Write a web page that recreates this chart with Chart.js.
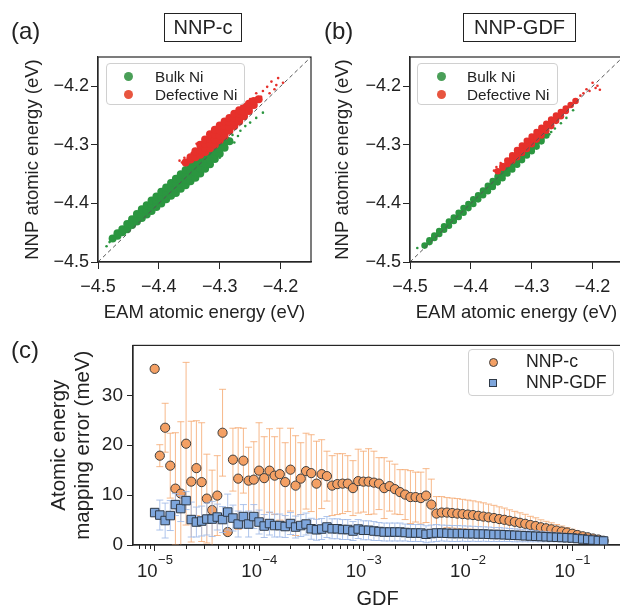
<!DOCTYPE html>
<html>
<head>
<meta charset="utf-8">
<script src="https://cdn.jsdelivr.net/npm/chart.js@4.4.1/dist/chart.umd.min.js"></script>
<style>
  html, body { margin: 0; padding: 0; background: #fff; }
  body { width: 620px; height: 608px; position: relative; overflow: hidden;
         font-family: 'Liberation Sans', Arial, Helvetica, sans-serif; color: #222; }
  canvas { position: absolute; }
  .panel { position: absolute; font-size: 24px; line-height: 1; }
  .title { position: absolute; border: 1px solid #222; box-sizing: border-box; font-size: 20px;
           display: flex; align-items: center; justify-content: center; background: #fff; }
  .legend { position: absolute; border: 1px solid #d0d0d0; border-radius: 4px; box-sizing: border-box;
            background: rgba(255,255,255,0.85); }
  .txt { position: absolute; white-space: nowrap; line-height: 1; }
  .mk { position: absolute; box-sizing: border-box; }
</style>
</head>
<body>
<canvas id="chartA" width="320" height="330" style="left:0;top:0"></canvas>
<canvas id="chartB" width="320" height="330" style="left:310px;top:0"></canvas>
<canvas id="chartC" width="630" height="285" style="left:0;top:330px"></canvas>

<div class="panel" style="left:11px;top:19px">(a)</div>
<div class="title" style="left:164px;top:13px;width:78px;height:29px">NNP-c</div>
<div class="panel" style="left:324px;top:19px">(b)</div>
<div class="title" style="left:463px;top:13px;width:113px;height:29px">NNP-GDF</div>
<div class="panel" style="left:11px;top:338px">(c)</div>

<div class="legend" style="left:106px;top:63px;width:139px;height:42px"></div>
<div class="mk" style="left:123.5px;top:71.5px;width:9px;height:9px;border-radius:50%;background:#4a9f58"></div>
<div class="txt" style="left:155px;top:68.5px;font-size:15.3px">Bulk Ni</div>
<div class="mk" style="left:123.5px;top:89.5px;width:9px;height:9px;border-radius:50%;background:#e8553f"></div>
<div class="txt" style="left:155px;top:86.5px;font-size:15.3px">Defective Ni</div>

<div class="legend" style="left:417px;top:63px;width:141px;height:42px"></div>
<div class="mk" style="left:436.5px;top:71.5px;width:9px;height:9px;border-radius:50%;background:#4a9f58"></div>
<div class="txt" style="left:467px;top:68.5px;font-size:15.3px">Bulk Ni</div>
<div class="mk" style="left:436.5px;top:89.5px;width:9px;height:9px;border-radius:50%;background:#e8553f"></div>
<div class="txt" style="left:467px;top:86.5px;font-size:15.3px">Defective Ni</div>

<div class="legend" style="left:468px;top:349px;width:146px;height:47px"></div>
<div class="mk" style="left:488.5px;top:357.5px;width:9px;height:9px;border-radius:50%;background:#f4a064;border:1px solid #3d3d3d"></div>
<div class="txt" style="left:526px;top:353.3px;font-size:17.7px">NNP-c</div>
<div class="mk" style="left:489px;top:379px;width:8px;height:8px;background:#7ea6dc;border:1px solid #2f3a48"></div>
<div class="txt" style="left:526px;top:374.3px;font-size:17.7px">NNP-GDF</div>

<script>
// ---- panels (a) and (b): atomic energies, eV ----
const energyTicks = [-4.5, -4.4, -4.3, -4.2];
const energyTickLabels = ['−4.5', '−4.4', '−4.3', '−4.2'];
const diagonal = [-4.5, -4.15];

// columns of the dense clouds: [EAM energy, [NNP energies at that EAM energy]]
const bulkNNPc = [
  [-4.476, [-4.460]],
  [-4.468, [-4.455, -4.451]],
  [-4.460, [-4.449, -4.444]],
  [-4.452, [-4.444, -4.435]],
  [-4.444, [-4.437, -4.432, -4.427]],
  [-4.436, [-4.431, -4.425, -4.418]],
  [-4.428, [-4.425, -4.418, -4.410]],
  [-4.420, [-4.419, -4.411, -4.403]],
  [-4.412, [-4.413, -4.407, -4.401, -4.395]],
  [-4.404, [-4.406, -4.400, -4.394, -4.388]],
  [-4.396, [-4.400, -4.393, -4.387, -4.380]],
  [-4.388, [-4.393, -4.386, -4.379, -4.373]],
  [-4.380, [-4.387, -4.380, -4.372, -4.365]],
  [-4.372, [-4.382, -4.374, -4.366, -4.358]],
  [-4.364, [-4.375, -4.367, -4.359, -4.350]],
  [-4.356, [-4.369, -4.360, -4.352, -4.343]],
  [-4.348, [-4.362, -4.353, -4.344, -4.336]],
  [-4.340, [-4.356, -4.347, -4.337, -4.328]],
  [-4.332, [-4.349, -4.340, -4.330, -4.321]],
  [-4.324, [-4.341, -4.332, -4.323, -4.315]],
  [-4.316, [-4.333, -4.325, -4.317, -4.309]],
  [-4.308, [-4.324, -4.317, -4.311, -4.304]],
  [-4.300, [-4.315, -4.307, -4.299]],
  [-4.292, [-4.305, -4.295]],
  [-4.284, [-4.294]]
];
const bulkSparseNNPc = [
  [-4.486, -4.473], [-4.481, -4.466], [-4.279, -4.283], [-4.270, -4.285], [-4.266, -4.276],
  [-4.258, -4.268], [-4.250, -4.262], [-4.240, -4.254], [-4.229, -4.245], [-4.286, -4.289],
  [-4.276, -4.296], [-4.300, -4.322]
];
const defectNNPc = [
  [-4.356, [-4.330]],
  [-4.348, [-4.325, -4.321]],
  [-4.340, [-4.321, -4.311]],
  [-4.332, [-4.317, -4.309, -4.300]],
  [-4.324, [-4.312, -4.305, -4.298, -4.291]],
  [-4.316, [-4.306, -4.298, -4.290, -4.282]],
  [-4.308, [-4.300, -4.291, -4.282, -4.274]],
  [-4.300, [-4.292, -4.284, -4.275, -4.267]],
  [-4.292, [-4.285, -4.276, -4.268, -4.260]],
  [-4.284, [-4.276, -4.269, -4.261, -4.254]],
  [-4.276, [-4.268, -4.261, -4.254, -4.247]],
  [-4.268, [-4.260, -4.253, -4.247, -4.241]],
  [-4.260, [-4.251, -4.243, -4.235]],
  [-4.252, [-4.242, -4.236, -4.230]],
  [-4.244, [-4.232, -4.225]],
  [-4.236, [-4.222]]
];
const defectSparseNNPc = [
  [-4.215, -4.192], [-4.196, -4.194], [-4.204, -4.186], [-4.229, -4.208], [-4.222, -4.201],
  [-4.210, -4.205], [-4.240, -4.212], [-4.232, -4.218], [-4.218, -4.212], [-4.207, -4.198],
  [-4.245, -4.225], [-4.250, -4.222], [-4.362, -4.330], [-4.366, -4.327], [-4.358, -4.322],
  [-4.346, -4.314], [-4.338, -4.298], [-4.327, -4.292]
];
const bulkNNPgdf = [
  [-4.476, [-4.472]],
  [-4.468, [-4.466, -4.463]],
  [-4.460, [-4.459, -4.455]],
  [-4.452, [-4.452, -4.447]],
  [-4.444, [-4.445, -4.439]],
  [-4.436, [-4.438, -4.431]],
  [-4.428, [-4.430, -4.424]],
  [-4.420, [-4.423, -4.416]],
  [-4.412, [-4.416, -4.408]],
  [-4.404, [-4.408, -4.401]],
  [-4.396, [-4.401, -4.393]],
  [-4.388, [-4.393, -4.386]],
  [-4.380, [-4.386, -4.382, -4.378]],
  [-4.372, [-4.379, -4.374, -4.370]],
  [-4.364, [-4.372, -4.367, -4.362]],
  [-4.356, [-4.364, -4.359, -4.354]],
  [-4.348, [-4.357, -4.352, -4.347]],
  [-4.340, [-4.349, -4.344, -4.340]],
  [-4.332, [-4.342, -4.337, -4.332]],
  [-4.324, [-4.334, -4.329, -4.325]],
  [-4.316, [-4.326, -4.322, -4.317]],
  [-4.308, [-4.318, -4.314, -4.310]],
  [-4.300, [-4.311, -4.307, -4.302]],
  [-4.292, [-4.303, -4.296]],
  [-4.284, [-4.294, -4.290]],
  [-4.276, [-4.284]]
];
const bulkSparseNNPgdf = [
  [-4.488, -4.476], [-4.271, -4.282], [-4.262, -4.272], [-4.252, -4.263], [-4.243, -4.254],
  [-4.232, -4.241], [-4.268, -4.278]
];
const defectNNPgdf = [
  [-4.356, [-4.345]],
  [-4.348, [-4.339, -4.336]],
  [-4.340, [-4.333, -4.327]],
  [-4.332, [-4.327, -4.322, -4.318]],
  [-4.324, [-4.321, -4.315, -4.309]],
  [-4.316, [-4.314, -4.310, -4.305, -4.301]],
  [-4.308, [-4.307, -4.302, -4.298, -4.293]],
  [-4.300, [-4.299, -4.295, -4.290, -4.286]],
  [-4.292, [-4.291, -4.287, -4.283, -4.278]],
  [-4.284, [-4.284, -4.279, -4.275, -4.271]],
  [-4.276, [-4.276, -4.270, -4.264]],
  [-4.268, [-4.268, -4.262, -4.257]],
  [-4.260, [-4.259, -4.255, -4.250]],
  [-4.252, [-4.251, -4.244]],
  [-4.244, [-4.242, -4.238]],
  [-4.236, [-4.232]],
  [-4.228, [-4.225]]
];
const defectSparseNNPgdf = [
  [-4.205, -4.208], [-4.200, -4.194], [-4.195, -4.203], [-4.210, -4.205], [-4.215, -4.212],
  [-4.188, -4.206], [-4.220, -4.216], [-4.192, -4.199], [-4.358, -4.338], [-4.362, -4.344],
  [-4.351, -4.331]
];

// ---- panel (c): mapping error vs GDF ----
const gdf = [
  1.00e-5, 1.12e-5, 1.26e-5, 1.41e-5, 1.58e-5, 1.78e-5, 2.00e-5, 2.24e-5, 2.51e-5, 2.82e-5,
  3.16e-5, 3.55e-5, 3.98e-5, 4.47e-5, 5.01e-5, 5.62e-5, 6.31e-5, 7.08e-5, 7.94e-5, 8.91e-5,
  1.00e-4, 1.12e-4, 1.26e-4, 1.41e-4, 1.58e-4, 1.78e-4, 2.00e-4, 2.24e-4, 2.51e-4, 2.82e-4,
  3.16e-4, 3.55e-4, 3.98e-4, 4.47e-4, 5.01e-4, 5.62e-4, 6.31e-4, 7.08e-4, 7.94e-4, 8.91e-4,
  1.00e-3, 1.12e-3, 1.26e-3, 1.41e-3, 1.58e-3, 1.78e-3, 2.00e-3, 2.24e-3, 2.51e-3, 2.82e-3,
  3.16e-3, 3.55e-3, 3.98e-3, 4.47e-3, 5.01e-3, 5.62e-3, 6.31e-3, 7.08e-3, 7.94e-3, 8.91e-3,
  1.00e-2, 1.12e-2, 1.26e-2, 1.41e-2, 1.58e-2, 1.78e-2, 2.00e-2, 2.24e-2, 2.51e-2, 2.82e-2,
  3.16e-2, 3.55e-2, 3.98e-2, 4.47e-2, 5.01e-2, 5.62e-2, 6.31e-2, 7.08e-2, 7.94e-2, 8.91e-2,
  1.00e-1, 1.12e-1, 1.26e-1, 1.41e-1, 1.58e-1, 1.78e-1, 2.00e-1
];
const errNNPc = [
  35.3, 17.9, 23.5, 15.9, 11.3, 10.3, 20.3, 12.7, 15.4, 12.6,
  9.3, 7.0, 9.9, 22.5, 2.6, 17.1, 13.3, 16.9, 12.9, 13.1,
  14.9, 13.4, 14.9, 13.9, 14.2, 12.6, 15.1, 11.9, 13.3, 14.8,
  14.4, 12.3, 14.2, 13.8, 11.9, 12.2, 12.3, 12.3, 11.4, 12.8,
  12.7, 12.7, 12.5, 12.3, 11.4, 11.8, 11.2, 10.6, 10.1, 9.6,
  9.6, 9.4, 9.9, 8.1, 6.3, 6.5, 6.5, 6.4, 6.3, 6.2,
  6.1, 6.0, 5.85, 5.7, 5.55, 5.4, 5.2, 5.05, 4.85, 4.65,
  4.45, 4.25, 4.0, 3.8, 3.55, 3.35, 3.15, 2.9, 2.7, 2.5,
  2.25, 2.0, 1.75, 1.55, 1.3, 1.1, 0.85
];
const stdNNPc = [
  0, 2.2, 4.9, 6.5, 11.2, 14.4, 16.3, 12.1, 9.5, 11.9,
  8.9, 8.0, 8.0, 8.7, 0, 6.3, 10.2, 6.5, 6.7, 7.6,
  9.6, 8.3, 8.4, 7.8, 9.2, 7.9, 8.3, 10.0, 7.2, 7.6,
  7.7, 8.5, 6.9, 5.0, 6.0, 6.1, 6.0, 5.6, 5.5, 6.4,
  6.1, 6.6, 6.3, 5.2, 6.1, 5.0, 5.0, 4.5, 5.0, 5.3,
  5.0, 5.2, 5.4, 5.1, 3.4, 3.2, 3.0, 3.0, 3.0, 2.95,
  2.9, 2.85, 2.8, 2.75, 2.65, 2.55, 2.45, 2.35, 2.2, 2.1,
  2.0, 1.9, 1.75, 1.65, 1.5, 1.4, 1.3, 1.2, 1.1, 1.0,
  0.9, 0.8, 0.7, 0.55, 0.4, 0.25, 0.1
];
const errNNPgdf = [
  6.5, 6.0, 4.9, 5.9, 8.1, 7.3, 8.9, 5.1, 4.6, 4.8,
  5.2, 5.2, 5.6, 5.1, 6.6, 5.4, 4.2, 5.7, 4.2, 5.7,
  4.6, 3.8, 4.3, 3.9, 3.9, 3.7, 4.3, 3.6, 3.9, 4.2,
  3.25, 3.05, 3.2, 3.6, 3.25, 3.25, 3.1, 3.1, 2.8, 3.2,
  2.95, 2.95, 2.8, 2.7, 2.6, 2.6, 2.6, 2.6, 2.5, 2.4,
  2.4, 2.4, 2.15, 2.3, 2.4, 2.4, 2.35, 2.3, 2.3, 2.3,
  2.25, 2.25, 2.2, 2.2, 2.15, 2.1, 2.1, 2.05, 2.0, 1.95,
  1.9, 1.85, 1.8, 1.75, 1.7, 1.65, 1.6, 1.55, 1.5, 1.45,
  1.4, 1.3, 1.2, 1.1, 1.0, 0.9, 0.8
];
const stdNNPgdf = [
  0, 3.0, 3.5, 3.0, 2.2, 2.6, 1.8, 3.5, 3.0, 3.0,
  3.2, 3.5, 2.6, 2.6, 3.6, 2.6, 2.6, 2.4, 2.6, 2.4,
  2.4, 2.3, 2.3, 2.3, 2.3, 2.2, 2.2, 2.2, 2.2, 2.2,
  2.1, 2.1, 2.1, 2.1, 2.0, 2.0, 2.0, 2.0, 1.9, 1.9,
  1.9, 1.9, 1.9, 1.8, 1.8, 1.8, 1.8, 1.8, 1.7, 1.7,
  1.7, 1.7, 1.7, 1.7, 1.7, 1.6, 1.6, 1.6, 1.6, 1.55,
  1.55, 1.5, 1.5, 1.45, 1.45, 1.4, 1.4, 1.35, 1.3, 1.3,
  1.25, 1.2, 1.15, 1.1, 1.05, 1.0, 0.95, 0.9, 0.85, 0.8,
  0.7, 0.6, 0.5, 0.4, 0.3, 0.2, 0.1
];
const gdfTicks = [1e-5, 1e-4, 1e-3, 1e-2, 1e-1];
const gdfTickBase = '10';
const gdfTickExponents = ['−5', '−4', '−3', '−2', '−1'];
const minorMultipliers = [2, 3, 4, 5, 6, 7, 8, 9];
const errTicks = [0, 10, 20, 30];
const errTickLabels = ['0', '10', '20', '30'];

const fontFamily = "'Liberation Sans', Arial, Helvetica, sans-serif";
Chart.defaults.font.family = fontFamily;
Chart.defaults.color = '#222';

const bulkColor = '#2b9640';
const defectColor = '#e6302b';

function columnsToPoints(cols) {
  const pts = [];
  cols.forEach(([x, ys]) => ys.forEach(y => pts.push({x: x, y: y})));
  return pts;
}
function pairsToPoints(pairs) {
  return pairs.map(([x, y]) => ({x: x, y: y}));
}

// top and right spines
const framePlugin = {
  id: 'frame',
  afterDatasetsDraw(chart) {
    const {ctx, chartArea: a} = chart;
    ctx.save();
    ctx.strokeStyle = '#262626';
    ctx.lineWidth = 1.2;
    ctx.strokeRect(a.left, a.top, a.right - a.left, a.bottom - a.top);
    ctx.restore();
  }
};

function makeEnergyChart(id, yWidth, rightPad, bulk, bulkSparse, defect, defectSparse, r) {
  const ticks = {
    font: {size: 18}, color: '#222', autoSkip: false, maxRotation: 0,
    callback: v => energyTickLabels[energyTicks.indexOf(v)]
  };
  const grid = {drawOnChartArea: false, tickLength: 7, tickColor: '#262626', tickWidth: 1};
  const border = {color: '#262626', width: 1.2};
  return new Chart(document.getElementById(id), {
    type: 'scatter',
    data: {
      datasets: [
        {type: 'line', data: diagonal.map(v => ({x: v, y: v})), borderColor: '#555', borderWidth: 1,
         borderDash: [4, 3], pointRadius: 0, fill: false, order: 0},
        {data: columnsToPoints(defect), pointBackgroundColor: defectColor, pointBorderWidth: 0, pointRadius: r, order: 1},
        {data: pairsToPoints(defectSparse), pointBackgroundColor: defectColor, pointBorderWidth: 0, pointRadius: 1.3, order: 2},
        {data: columnsToPoints(bulk), pointBackgroundColor: bulkColor, pointBorderWidth: 0, pointRadius: r, order: 3},
        {data: pairsToPoints(bulkSparse), pointBackgroundColor: bulkColor, pointBorderWidth: 0, pointRadius: 1.3, order: 4}
      ]
    },
    options: {
      responsive: false, animation: false, events: [],
      layout: {padding: {left: 0, top: 57, right: rightPad, bottom: 6}},
      plugins: {legend: {display: false}, tooltip: {enabled: false}},
      scales: {
        x: {
          type: 'linear', bounds: 'data', min: -4.5, max: -4.15,
          afterBuildTicks: s => { s.ticks = energyTicks.map(v => ({value: v})); },
          afterFit: s => { s.height = 62; },
          ticks: Object.assign({}, ticks, {padding: 7}),
          grid: grid, border: border,
          title: {display: true, text: 'EAM atomic energy (eV)', font: {size: 18.5}, color: '#222',
                  padding: {top: 0, bottom: 0}}
        },
        y: {
          type: 'linear', bounds: 'data', min: -4.5, max: -4.15,
          afterBuildTicks: s => { s.ticks = energyTicks.map(v => ({value: v})); },
          afterFit: s => { s.width = yWidth; },
          ticks: Object.assign({}, ticks, {padding: 2}),
          grid: grid, border: border,
          title: {display: true, text: 'NNP atomic energy (eV)', font: {size: 18.5}, color: '#222',
                  padding: {top: 22, bottom: 0}}
        }
      }
    },
    plugins: [framePlugin]
  });
}

makeEnergyChart('chartA', 98, 9, bulkNNPc, bulkSparseNNPc, defectNNPc, defectSparseNNPc, 4);
makeEnergyChart('chartB', 100, 7, bulkNNPgdf, bulkSparseNNPgdf, defectNNPgdf, defectSparseNNPgdf, 3.3);

// error bars drawn under each dataset's markers
const errorBarsPlugin = {
  id: 'errorBars',
  beforeDatasetDraw(chart, args) {
    const ds = chart.data.datasets[args.index];
    if (!ds.errors) return;
    const {ctx, chartArea: a, scales: {x, y}} = chart;
    ctx.save();
    ctx.beginPath();
    ctx.rect(a.left, a.top, a.right - a.left, a.bottom - a.top);
    ctx.clip();
    ctx.strokeStyle = ds.errorColor;
    ctx.lineWidth = 1;
    ds.data.forEach((p, i) => {
      const e = ds.errors[i];
      if (!e) return;
      const px = x.getPixelForValue(p.x);
      const hi = y.getPixelForValue(p.y + e);
      const lo = y.getPixelForValue(p.y - e);
      ctx.beginPath();
      ctx.moveTo(px, hi); ctx.lineTo(px, lo);
      ctx.moveTo(px - 3.5, hi); ctx.lineTo(px + 3.5, hi);
      ctx.moveTo(px - 3.5, lo); ctx.lineTo(px + 3.5, lo);
      ctx.stroke();
    });
    ctx.restore();
  }
};

// short minor ticks and 10^n labels on the log axis
const logAxisPlugin = {
  id: 'logAxis',
  afterDraw(chart) {
    const s = chart.scales.x;
    const ctx = chart.ctx;
    ctx.save();
    ctx.strokeStyle = '#262626';
    ctx.lineWidth = 1;
    s.ticks.forEach(t => {
      if (gdfTicks.includes(t.value)) return;
      const px = Math.round(s.getPixelForValue(t.value)) + 0.5;
      ctx.beginPath();
      ctx.moveTo(px, s.top);
      ctx.lineTo(px, s.top + 4);
      ctx.stroke();
    });
    ctx.fillStyle = '#222';
    ctx.textBaseline = 'alphabetic';
    ctx.textAlign = 'left';
    gdfTicks.forEach((v, i) => {
      const px = s.getPixelForValue(v);
      ctx.font = '18.5px ' + fontFamily;
      const wb = ctx.measureText(gdfTickBase).width;
      ctx.font = '13px ' + fontFamily;
      const we = ctx.measureText(gdfTickExponents[i]).width;
      const x0 = px - (wb + we) / 2;
      ctx.font = '18.5px ' + fontFamily;
      ctx.fillText(gdfTickBase, x0, s.top + 32);
      ctx.font = '13px ' + fontFamily;
      ctx.fillText(gdfTickExponents[i], x0 + wb + 0.5, s.top + 19);
    });
    ctx.restore();
  }
};

const gdfMin = 6.2e-6, gdfMax = 0.30;

new Chart(document.getElementById('chartC'), {
  type: 'scatter',
  data: {
    datasets: [
      {label: 'NNP-c', data: gdf.map((g, i) => ({x: g, y: errNNPc[i]})), errors: stdNNPc,
       errorColor: 'rgba(245,168,110,0.8)', pointStyle: 'circle', pointRadius: 4.6,
       pointBackgroundColor: '#f4a064', pointBorderColor: '#3d3d3d', pointBorderWidth: 1, order: 1},
      {label: 'NNP-GDF', data: gdf.map((g, i) => ({x: g, y: errNNPgdf[i]})), errors: stdNNPgdf,
       errorColor: 'rgba(160,186,232,0.85)', pointStyle: 'rect', pointRadius: 6,
       pointBackgroundColor: '#7ea6dc', pointBorderColor: '#2f3a48', pointBorderWidth: 1, order: 0}
    ]
  },
  options: {
    responsive: false, animation: false, events: [],
    layout: {padding: {left: 0, top: 10, right: 8, bottom: 4}},
    plugins: {legend: {display: false}, tooltip: {enabled: false}},
    scales: {
      x: {
        type: 'logarithmic', bounds: 'data', min: gdfMin, max: gdfMax,
        afterBuildTicks: s => {
          const t = [];
          [1e-6, 1e-5, 1e-4, 1e-3, 1e-2, 1e-1].forEach(d => {
            if (d >= gdfMin && d <= gdfMax) t.push({value: d});
            minorMultipliers.forEach(m => {
              const v = d * m;
              if (v >= gdfMin && v <= gdfMax) t.push({value: v});
            });
          });
          s.ticks = t;
        },
        afterFit: s => { s.height = 66; },
        ticks: {
          font: {size: 19}, color: '#222', autoSkip: false, maxRotation: 0, padding: 9,
          major: {enabled: false},
          callback: () => ''
        },
        grid: {drawOnChartArea: false, tickLength: 6, tickWidth: 1,
               tickColor: c => (c.tick && gdfTicks.includes(c.tick.value)) ? '#262626' : 'rgba(0,0,0,0)'},
        border: {color: '#262626', width: 1.2},
        title: {display: true, text: 'GDF', font: {size: 20}, color: '#222', padding: {top: 0, bottom: 0}}
      },
      y: {
        type: 'linear', bounds: 'data', min: 0, max: 40,
        afterBuildTicks: s => { s.ticks = errTicks.map(v => ({value: v})); },
        afterFit: s => { s.width = 133; },
        ticks: {font: {size: 19}, color: '#222', padding: 4, autoSkip: false,
                callback: v => errTickLabels[errTicks.indexOf(v)]},
        grid: {drawOnChartArea: false, tickLength: 6, tickColor: '#262626', tickWidth: 1},
        border: {color: '#262626', width: 1.2},
        title: {display: true, text: ['Atomic energy', 'mapping error (meV)'],
                font: {size: 20.5, lineHeight: 1.17}, color: '#222', padding: {top: 47, bottom: 0}}
      }
    }
  },
  plugins: [errorBarsPlugin, logAxisPlugin, framePlugin]
});
</script>
</body>
</html>
